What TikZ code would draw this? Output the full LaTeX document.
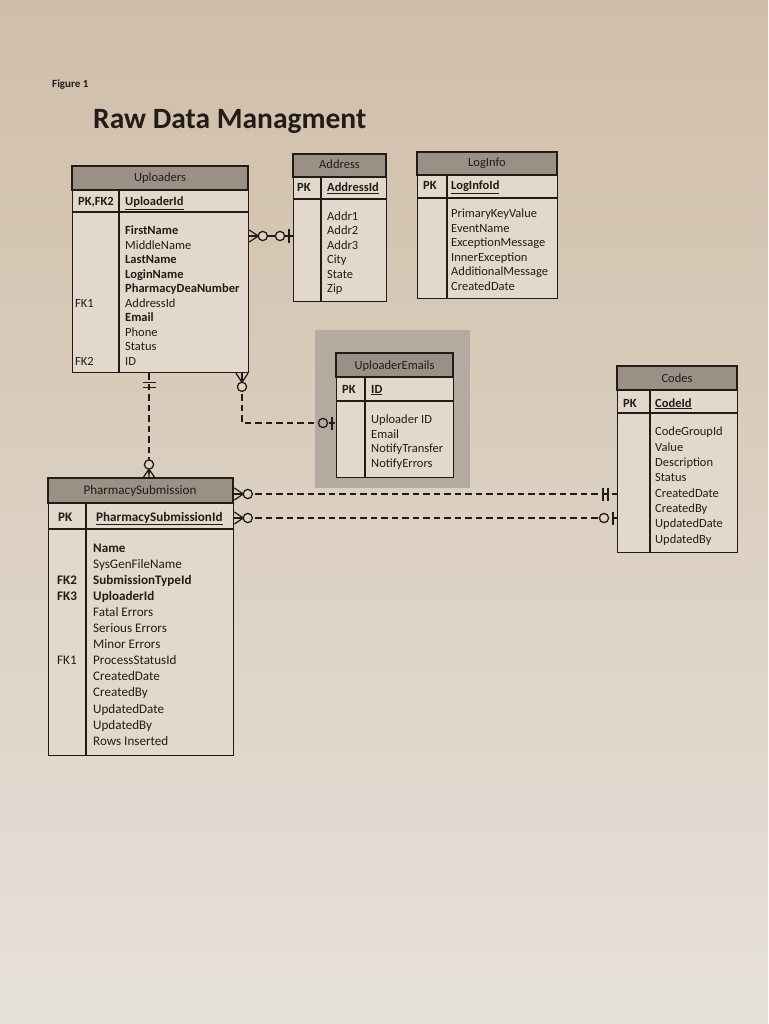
\documentclass[tikz,border=0pt]{standalone}
\usepackage{fontspec}
\setmainfont{Carlito}
\usetikzlibrary{calc}
\definecolor{paperT}{RGB}{208,190,168}
\definecolor{paperB}{RGB}{230,225,218}
\definecolor{paper}{RGB}{222,211,196}
\definecolor{bodyc}{RGB}{226,217,204}
\definecolor{hdr}{RGB}{154,144,134}
\definecolor{backc}{RGB}{180,170,160}
\definecolor{ink}{RGB}{34,28,24}
\def\fsz{12.5}
\tikzset{
  circfill/.store in=\circfill, circfill=paper,
  tbl/.style={draw=ink, line width=1.3pt, fill=bodyc, anchor=north west, inner sep=0pt},
  hdrband/.style={draw=ink, line width=1.3pt, fill=hdr},
  rule/.style={draw=ink, line width=1.3pt},
  fld/.style={anchor=base west, inner sep=0pt, text=ink, font=\fontsize{\fsz}{15}\selectfont},
  bfld/.style={anchor=base west, inner sep=0pt, text=ink, font=\fontsize{\fsz}{15}\selectfont\bfseries},
  ttl/.style={anchor=base, inner sep=0pt, text=ink, font=\fontsize{\fsz}{15}\selectfont},
  rel/.style={draw=ink, line width=1.3pt, dash pattern=on 6.5pt off 4pt},
  relsolid/.style={draw=ink, line width=1.3pt},
  zmany/.pic={\draw[ink, line width=1.3pt] (0,6)--(9,0)--(0,-6) (0,0)--(9,0);
              \draw[ink, line width=1.3pt, fill=\circfill] (13.5,0) circle (4.6);},
  zone/.pic={\draw[ink, line width=1.3pt] (4,6.5)--(4,-6.5);
             \draw[ink, line width=1.3pt, fill=\circfill] (13,0) circle (4.6);},
  oneone/.pic={\draw[ink, line width=1.3pt] (9,6.5)--(9,-6.5) (14,6.5)--(14,-6.5);}
}
\begin{document}
\begin{tikzpicture}[x=1pt,y=1pt]
\useasboundingbox (0,0) rectangle (768,-1024);
\shade[top color=paperT, bottom color=paperB] (0,0) rectangle (768,-1024);

\node[anchor=base west, inner sep=0pt, font=\fontsize{11}{12}\selectfont\bfseries, text=ink] (fig) at (52,-88) {Figure 1};
\node[anchor=base west, inner sep=0pt, font=\fontsize{29.5}{33}\selectfont\bfseries, text=ink] (maintitle) at (93,-129) {Raw Data Managment};

% ---------------- Uploaders ----------------
\node[tbl, minimum width=176pt, minimum height=206pt] (upl) at (72,-166) {};
\filldraw[hdrband] (72,-166) rectangle (248,-190);
\draw[rule] (72,-212) -- (248,-212);
\draw[rule] (119,-190) -- (119,-372);
\node[ttl] (uplT) at (160,-182) {Uploaders};
\node[bfld] (uplK) at (78,-206) {PK,FK2};
\node[bfld] (uplP) at (125,-206) {\underline{UploaderId}};
\node[bfld] (u1) at (125,-235) {FirstName};
\node[fld]  (u2) at (125,-249.4) {MiddleName};
\node[bfld] (u3) at (125,-263.9) {LastName};
\node[bfld] (u4) at (125,-278.3) {LoginName};
\node[bfld] (u5) at (125,-292.8) {PharmacyDeaNumber};
\node[fld]  (u6) at (125,-307.2) {AddressId};
\node[bfld] (u7) at (125,-321.7) {Email};
\node[fld]  (u8) at (125,-336.1) {Phone};
\node[fld]  (u9) at (125,-350.6) {Status};
\node[fld]  (u10) at (125,-365) {ID};
\node[fld]  (uk1) at (75,-307.2) {FK1};
\node[fld]  (uk2) at (75,-365) {FK2};

% ---------------- Address ----------------
\node[tbl, minimum width=93pt, minimum height=147pt] (addr) at (293,-154) {};
\filldraw[hdrband] (293,-154) rectangle (386,-177);
\draw[rule] (293,-199) -- (386,-199);
\draw[rule] (321,-177) -- (321,-301);
\node[ttl] (addrT) at (339.5,-169) {Address};
\node[bfld] (addrK) at (297,-192) {PK};
\node[bfld] (addrP) at (327,-192) {\underline{AddressId}};
\node[fld] (a1) at (327,-220.7) {Addr1};
\node[fld] (a2) at (327,-235) {Addr2};
\node[fld] (a3) at (327,-249.3) {Addr3};
\node[fld] (a4) at (327,-263.6) {City};
\node[fld] (a5) at (327,-278) {State};
\node[fld] (a6) at (327,-292.3) {Zip};

% ---------------- LogInfo ----------------
\node[tbl, minimum width=140pt, minimum height=146pt] (log) at (417,-152) {};
\filldraw[hdrband] (417,-152) rectangle (557,-175);
\draw[rule] (417,-198) -- (557,-198);
\draw[rule] (447,-175) -- (447,-298);
\node[ttl] (logT) at (487,-167) {LogInfo};
\node[bfld] (logK) at (423,-190) {PK};
\node[bfld] (logP) at (451,-190) {\underline{LogInfoId}};
\node[fld] (l1) at (451,-218) {PrimaryKeyValue};
\node[fld] (l2) at (451,-232.4) {EventName};
\node[fld] (l3) at (451,-246.8) {ExceptionMessage};
\node[fld] (l4) at (451,-261.2) {InnerException};
\node[fld] (l5) at (451,-275.6) {AdditionalMessage};
\node[fld] (l6) at (451,-290) {CreatedDate};

% ---------------- UploaderEmails ----------------
\fill[backc] (315,-330) rectangle (470,-488);
\node[tbl, minimum width=117pt, minimum height=124pt] (ue) at (336,-353) {};
\filldraw[hdrband] (336,-353) rectangle (453,-377);
\draw[rule] (336,-401) -- (453,-401);
\draw[rule] (365,-377) -- (365,-477);
\node[ttl] (ueT) at (394.5,-369) {UploaderEmails};
\node[bfld] (ueK) at (342,-393) {PK};
\node[bfld] (ueP) at (371,-393) {\underline{ID}};
\node[fld] (e1) at (371,-423) {Uploader ID};
\node[fld] (e2) at (371,-438) {Email};
\node[fld] (e3) at (371,-452.5) {NotifyTransfer};
\node[fld] (e4) at (371,-467) {NotifyErrors};

% ---------------- Codes ----------------
\node[tbl, minimum width=120pt, minimum height=186pt] (codes) at (617,-366) {};
\filldraw[hdrband] (617,-366) rectangle (737,-390);
\draw[rule] (617,-413) -- (737,-413);
\draw[rule] (650,-390) -- (650,-552);
\node[ttl] (codesT) at (677,-382) {Codes};
\node[bfld] (codesK) at (623,-407) {PK};
\node[bfld] (codesP) at (655,-407) {\underline{CodeId}};
\node[fld] (c1) at (655,-435.7) {CodeGroupId};
\node[fld] (c2) at (655,-451.1) {Value};
\node[fld] (c3) at (655,-466.4) {Description};
\node[fld] (c4) at (655,-481.8) {Status};
\node[fld] (c5) at (655,-497.2) {CreatedDate};
\node[fld] (c6) at (655,-512.6) {CreatedBy};
\node[fld] (c7) at (655,-527.9) {UpdatedDate};
\node[fld] (c8) at (655,-543.3) {UpdatedBy};

% ---------------- PharmacySubmission ----------------
\def\fsz{13.1}
\node[tbl, minimum width=185pt, minimum height=277pt] (ps) at (48,-478) {};
\filldraw[hdrband] (48,-478) rectangle (233,-503);
\draw[rule] (48,-529) -- (233,-529);
\draw[rule] (86,-503) -- (86,-755);
\node[ttl] (psT) at (140,-494.5) {PharmacySubmission};
\node[bfld] (psK) at (58,-521) {PK};
\node[bfld] (psP) at (96,-521) {\underline{PharmacySubmissionId}};
\node[bfld] (p1) at (93,-552.2) {Name};
\node[fld]  (p2) at (93,-568.3) {SysGenFileName};
\node[bfld] (p3) at (93,-584.4) {SubmissionTypeId};
\node[bfld] (p4) at (93,-600.4) {UploaderId};
\node[fld]  (p5) at (93,-616.5) {Fatal Errors};
\node[fld]  (p6) at (93,-632.6) {Serious Errors};
\node[fld]  (p7) at (93,-648.7) {Minor Errors};
\node[fld]  (p8) at (93,-664.8) {ProcessStatusId};
\node[fld]  (p9) at (93,-680.8) {CreatedDate};
\node[fld]  (p10) at (93,-696.9) {CreatedBy};
\node[fld]  (p11) at (93,-713) {UpdatedDate};
\node[fld]  (p12) at (93,-729.1) {UpdatedBy};
\node[fld]  (p13) at (93,-745.2) {Rows Inserted};
\node[bfld] (pk2) at (57,-584.4) {FK2};
\node[bfld] (pk3) at (57,-600.4) {FK3};
\node[fld]  (pk1) at (57,-664.8) {FK1};

% ---------------- Connectors ----------------
% Uploaders -- Address
\draw[relsolid] (upl.east |- 0,-236) -- (addr.west |- 0,-236);
\pic at (upl.east |- 0,-236) {zmany};
\pic[rotate=180] at (addr.west |- 0,-236) {zone};
% Uploaders -- PharmacySubmission
\draw[rel] (upl.south -| 149,0) -- (ps.north -| 149,0);
\pic[rotate=-90] at (upl.south -| 149,0) {oneone};
\pic[rotate=90] at (ps.north -| 149,0) {zmany};
% Uploaders -- UploaderEmails
\draw[rel] (upl.south -| 242,0) |- (ue.west |- 0,-423);
\pic[rotate=-90] at (upl.south -| 242,0) {zmany};
\pic[rotate=180, circfill=backc] at (ue.west |- 0,-423) {zone};
% PharmacySubmission -- Codes
\draw[rel] (ps.east |- 0,-494) -- (codes.west |- 0,-494);
\pic at (ps.east |- 0,-494) {zmany};
\pic[rotate=180] at (codes.west |- 0,-494) {oneone};
\draw[rel] (ps.east |- 0,-518) -- (codes.west |- 0,-518);
\pic at (ps.east |- 0,-518) {zmany};
\pic[rotate=180] at (codes.west |- 0,-518) {zone};
\end{tikzpicture}
\end{document}
